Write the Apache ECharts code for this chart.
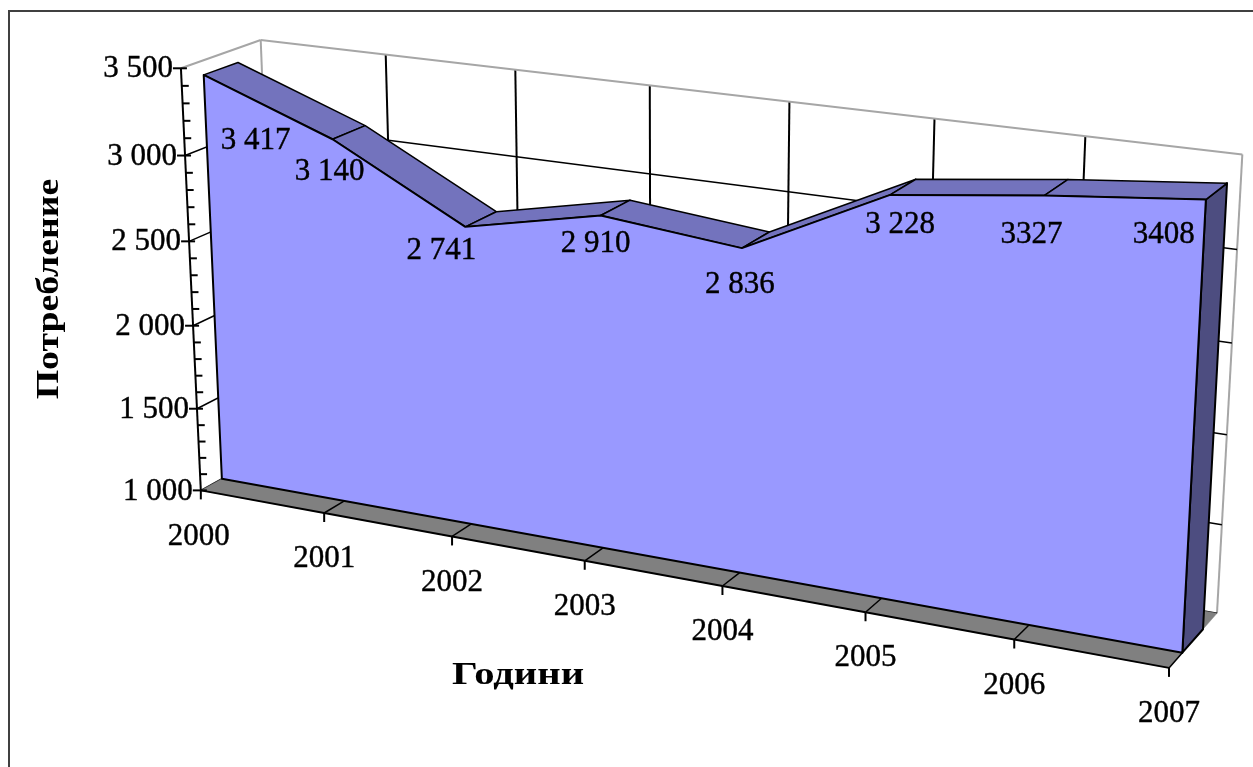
<!DOCTYPE html>
<html>
<head>
<meta charset="utf-8">
<style>html,body{margin:0;padding:0;background:#fff}#c{width:1253px;height:767px}</style>
<script src="https://cdn.jsdelivr.net/npm/echarts@6/dist/echarts.min.js"></script>
</head>
<body>
<div id="c"></div>
<script>
// ---- data ----
const years = ['2000','2001','2002','2003','2004','2005','2006','2007'];
const consumption = [3417,3140,2741,2910,2836,3228,3327,3408];
const dataLabels = ['3 417','3 140','2 741','2 910','2 836','3 228','3327','3408'];
const valueTicks = [1000,1500,2000,2500,3000,3500];
const valueTickLabels = ['1 000','1 500','2 000','2 500','3 000','3 500'];
const minorTicks = [1100,1200,1300,1400,1600,1700,1800,1900,2100,2200,2300,2400,2600,2700,2800,2900,3100,3200,3300,3400];
const yTitle = 'Потребление';
const xTitle = 'Години';

// ---- styling / view ----
const W = 1253, H = 767, VMIN = 1000, VMAX = 3500, LAST = years.length - 1;
const Z_FRONT = 0.27, Z_BACK = 0.70;
const FONT = '31px "Liberation Serif", serif';
const TITLE_FONT = 'bold 32px "Liberation Serif", serif';
const C = {front:'#9999FF', top:'#7373BD', side:'#4D4D80', floor:'#808080', edge:'#A6A6A6', ink:'#000'};
const labelOffsets = [[52,65],[-3,32],[-24,23],[-5,27],[-2,36],[10,29],[-13,38],[-42,34]];

// ---- camera: a 3D projective map (category, value, depth) -> screen, fitted by least squares ----
const calibration = [
  [0,1000,0,200,492],[1,1000,0,323,513],[2,1000,0,452,537],[6,1000,0,1013,640],[7,1000,0,1168,668],[0,3500,0,180,68],
  [0,2500,0,190,242],
  [0,3500,1,261,39],[1,3500,1,385,55],[2,3500,1,516,70],[3,3500,1,648,85],[4,3500,1,788,101],[5,3500,1,934,120],[6,3500,1,1084,137],[7,3500,1,1243,155],
  [7,1000,1,1219,613],
  [0,1000,Z_FRONT,223,477],[7,1000,Z_FRONT,1182,653],[7,1000,Z_BACK,1203,628],
  [0,3417,Z_FRONT,205,74],[0,3417,Z_BACK,237,63],[7,3408,Z_FRONT,1207,198],[7,3408,Z_BACK,1227,183],
  [3,2910,Z_FRONT,603,215],[3,2910,Z_BACK,632,201]
];
function fitCamera(rows){
  const n = 11, A = Array.from({length:n},()=>new Array(n+1).fill(0));
  const add = (r,t)=>{for(let i=0;i<n;i++){for(let j=0;j<n;j++)A[i][j]+=r[i]*r[j];A[i][n]+=r[i]*t;}};
  rows.forEach(([c,v,z,sx,sy])=>{
    const X=c/LAST,Y=(v-VMIN)/(VMAX-VMIN),sX=sx/1000,sY=sy/1000;
    add([X,Y,z,1,0,0,0,0,-sX*X,-sX*Y,-sX*z],sX);
    add([0,0,0,0,X,Y,z,1,-sY*X,-sY*Y,-sY*z],sY);
  });
  for(let i=0;i<n;i++){
    let p=i;for(let k=i+1;k<n;k++)if(Math.abs(A[k][i])>Math.abs(A[p][i]))p=k;
    [A[i],A[p]]=[A[p],A[i]];
    for(let k=0;k<n;k++){if(k===i)continue;const f=A[k][i]/A[i][i];for(let j=i;j<=n;j++)A[k][j]-=f*A[i][j];}
  }
  return A.map((r,i)=>r[n]/r[i]);
}
const M = fitCamera(calibration);
// api.coord gives the position on the library's own (flat) axes; it is then lifted into perspective
function P(api,cat,val,z){
  const pt = api.coord([cat,val]);
  const X = pt[0]/W, Y = 1-pt[1]/H;
  const d = M[8]*X+M[9]*Y+M[10]*z+1;
  return [1000*(M[0]*X+M[1]*Y+M[2]*z+M[3])/d, 1000*(M[4]*X+M[5]*Y+M[6]*z+M[7])/d];
}
const line=(a,b,stroke,w)=>({type:'line',silent:true,shape:{x1:a[0],y1:a[1],x2:b[0],y2:b[1]},style:{stroke,lineWidth:w||2}});
const poly=(pts,fill,stroke,w)=>({type:'polygon',silent:true,shape:{points:pts},style:{fill,stroke:stroke||null,lineWidth:w||0,lineJoin:'round'}});
const text=(s,p,al)=>({type:'text',silent:true,style:{text:s,x:p[0],y:p[1]+1,font:FONT,fill:C.ink,stroke:C.ink,lineWidth:0.4,align:al||'center',verticalAlign:'middle'}});
const catRows = years.map((y,i)=>[i,VMIN]);
const valRows = consumption.map((v,i)=>[i,v]);
const tickRows = valueTicks.map(v=>[0,v]);
const minorRows = minorTicks.map(v=>[0,v]);
function custom(name,data,renderItem){
  return {type:'custom',name,data,renderItem,coordinateSystem:'cartesian2d',clip:false,silent:true,animation:false,encode:{x:0,y:1}};
}
const series = [
  // back wall: vertical gridlines
  custom('wallV',catRows,(p,api)=>{
    const i=api.value(0),edge=(i===0||i===LAST);
    return line(P(api,i,VMIN,1),P(api,i,VMAX,1),edge?C.edge:C.ink,2);
  }),
  // walls: horizontal gridlines, back and side
  custom('wallH',tickRows,(p,api)=>{
    const v=api.value(1),top=v===VMAX;
    return {type:'group',children:[
      line(P(api,0,v,0),P(api,0,v,1),top?C.edge:C.ink,top?2:1.5),
      line(P(api,0,v,1),P(api,LAST,v,1),top?C.edge:C.ink,top?2:1.5)
    ]};
  }),
  // floor
  custom('floor',catRows,(p,api)=>{
    const i=api.value(0),kids=[];
    if(i<LAST){
      kids.push(poly([P(api,i,VMIN,0),P(api,i+1,VMIN,0),P(api,i+1,VMIN,1),P(api,i,VMIN,1)],C.floor,C.floor,0.5));
    }
    return {type:'group',children:kids};
  }),
  custom('floorEdges',catRows,(p,api)=>{
    const i=api.value(0),kids=[];
    if(i<LAST) kids.push(line(P(api,i,VMIN,0),P(api,i+1,VMIN,0),C.ink,2));
    if(i>0) kids.push(line(P(api,i,VMIN,0),P(api,i,VMIN,Z_FRONT),C.ink,1.5));
    const a=P(api,i,VMIN,0);
    kids.push(line(a,[a[0],a[1]+9],C.ink,2));
    kids.push(text(years[i],[a[0]-(i===0?2:0),a[1]+45]));
    return {type:'group',children:kids};
  }),
  // value axis
  custom('axis',tickRows,(p,api)=>{
    const v=api.value(1),a=P(api,0,v,0),kids=[line([a[0]-8,a[1]],[a[0]+6,a[1]],C.ink,2),text(valueTickLabels[p.dataIndex],[a[0]-8,a[1]],'right')];
    if(v<VMAX) kids.push(line(a,P(api,0,v+500,0),C.ink,2));
    return {type:'group',children:kids};
  }),
  custom('axisMinor',minorRows,(p,api)=>{
    const a=P(api,0,api.value(1),0);
    return line(a,[a[0]+7,a[1]],C.ink,2);
  }),
  // right-hand side of the area
  custom('side',valRows,(p,api)=>{
    if(p.dataIndex!==LAST) return {type:'group',children:[]};
    const v=api.value(1);
    return poly([P(api,LAST,v,Z_FRONT),P(api,LAST,v,Z_BACK),P(api,LAST,VMIN,Z_BACK),P(api,LAST,VMIN,Z_FRONT)],C.side,C.ink,2);
  }),
  // top band of the area
  custom('band',valRows,(p,api)=>{
    const i=api.value(0);
    if(i===LAST) return {type:'group',children:[]};
    const a=api.value(1),b=consumption[i+1];
    return poly([P(api,i,a,Z_FRONT),P(api,i+1,b,Z_FRONT),P(api,i+1,b,Z_BACK),P(api,i,a,Z_BACK)],C.top,C.ink,1.5);
  }),
  // front face of the area
  custom('Потребление',valRows,(p,api)=>{
    if(p.dataIndex!==0) return {type:'group',children:[]};
    const pts=consumption.map((v,i)=>P(api,i,v,Z_FRONT));
    pts.push(P(api,LAST,VMIN,Z_FRONT),P(api,0,VMIN,Z_FRONT));
    return poly(pts,C.front,C.ink,2);
  }),
  // data labels
  custom('labels',valRows,(p,api)=>{
    const i=api.value(0),a=P(api,i,api.value(1),Z_FRONT),o=labelOffsets[i];
    return text(dataLabels[i],[a[0]+o[0],a[1]+o[1]]);
  })
];
const chart = echarts.init(document.getElementById('c'),null,{renderer:'canvas',width:W,height:H});
chart.setOption({
  animation:false,
  backgroundColor:'#fff',
  grid:{left:0,right:0,top:0,bottom:0,containLabel:false},
  xAxis:{type:'category',data:years,boundaryGap:false,show:false},
  yAxis:{type:'value',min:VMIN,max:VMAX,interval:500,show:false},
  tooltip:{show:false},
  graphic:[
    {type:'rect',z:-10,silent:true,shape:{x:9,y:11,width:1400,height:900},style:{fill:'none',stroke:'#404040',lineWidth:2}},
    {type:'text',z:20,silent:true,x:50,y:289,rotation:Math.PI/2,scaleX:1.18,style:{text:yTitle,font:TITLE_FONT,fill:C.ink,align:'center',verticalAlign:'middle'}},
    {type:'text',z:20,silent:true,x:518,y:676,scaleX:1.27,style:{text:xTitle,font:TITLE_FONT,fill:C.ink,align:'center',verticalAlign:'middle'}}
  ],
  series
});
</script>
</body>
</html>
